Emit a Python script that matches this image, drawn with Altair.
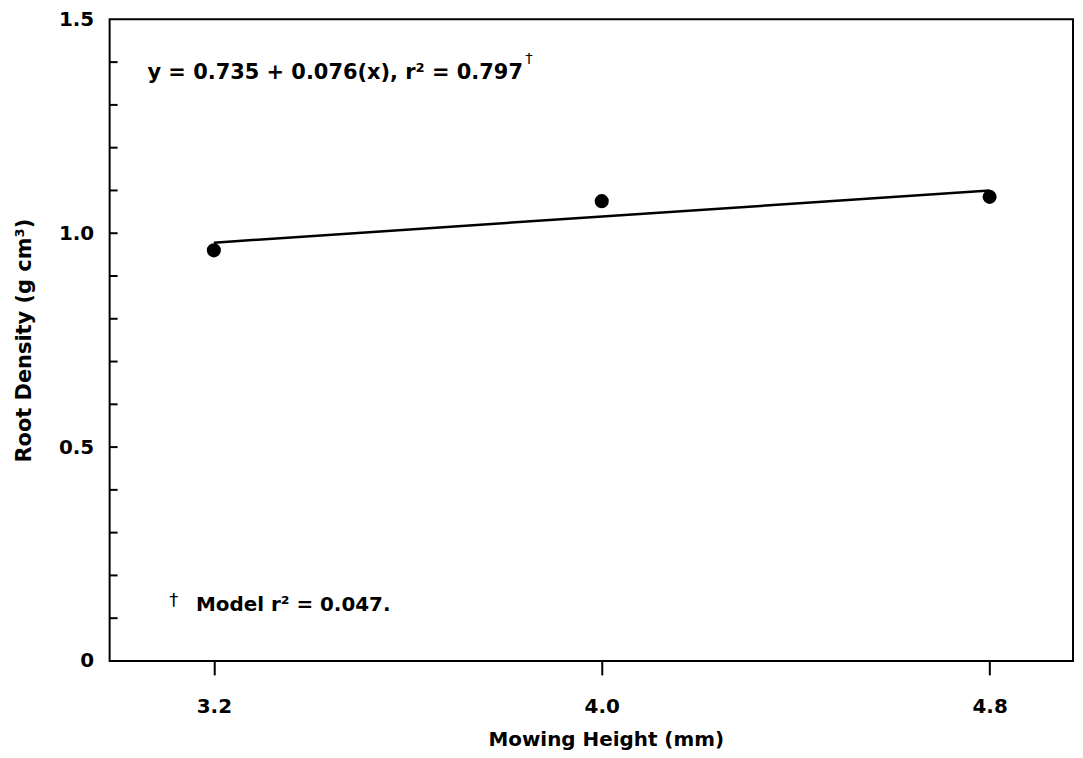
import altair as alt
import pandas as pd

# ---- data ----
mowing_height = [3.2, 4.0, 4.8]
root_density = [0.96, 1.075, 1.085]

fit_x = [3.2, 4.8]
fit_y = [0.978, 1.100]

x_tick_values = [3.2, 4.0, 4.8]
y_label_values = [0, 0.5, 1.0, 1.5]
y_minor_ticks = [0.1, 0.2, 0.3, 0.4, 0.5, 0.6, 0.7, 0.8, 0.9, 1.0, 1.1, 1.2, 1.3, 1.4]

eq_text = ["y = 0.735 + 0.076(x), r\u00b2 = 0.797"]
eq_x = [3.063]
eq_y = [1.36]

model_text = ["Model r\u00b2 = 0.047."]
model_x = [3.163]
model_y = [0.116]

eq_dagger_x = [3.842]
eq_dagger_y = [1.398]
model_dagger_x = [3.108]
model_dagger_y = [0.128]

X_DOMAIN = [2.985, 4.972]
Y_DOMAIN = [0, 1.5]
FONT = "DejaVu Sans"

points_df = pd.DataFrame({"x": mowing_height, "y": root_density})
fit_df = pd.DataFrame({"x": fit_x, "y": fit_y})
ticks_df = pd.DataFrame({"y": y_minor_ticks})
eq_df = pd.DataFrame({"x": eq_x, "y": eq_y, "t": eq_text})
model_df = pd.DataFrame({"x": model_x, "y": model_y, "t": model_text})
eq_dag_df = pd.DataFrame({"x": eq_dagger_x, "y": eq_dagger_y, "t": ["\u2020"]})
model_dag_df = pd.DataFrame({"x": model_dagger_x, "y": model_dagger_y, "t": ["\u2020"]})

xs = alt.Scale(domain=X_DOMAIN, nice=False, zero=False)
ys = alt.Scale(domain=Y_DOMAIN, nice=False, zero=False)

x_axis = alt.Axis(
    values=x_tick_values, format=".1f", domain=False, grid=False,
    ticks=True, tickSize=14, tickWidth=2, tickColor="black",
    labelFont=FONT, labelFontWeight="bold", labelFontSize=20, labelColor="black",
    labelPadding=22, labelBaseline="top",
    title="Mowing Height (mm)", titleFont=FONT, titleFontWeight="bold",
    titleFontSize=20, titleColor="black", titleX=498, titleY=85,
    titleBaseline="alphabetic", titleAlign="center",
)
y_axis = alt.Axis(
    values=y_label_values, domain=False, grid=False, ticks=False, tickSize=0,
    labelExpr="datum.value == 0 ? '0' : format(datum.value, '.1f')",
    labelFont=FONT, labelFontWeight="bold", labelFontSize=20, labelColor="black",
    labelPadding=16,
    title="Root Density (g cm\u00b3)", titleFont=FONT, titleFontWeight="bold",
    titleFontSize=21, titleColor="black", titleAngle=-90, titleX=-79, titleY=322,
    titleBaseline="alphabetic", titleAlign="center",
)

points = alt.Chart(points_df).mark_circle(size=200, color="black", opacity=1).encode(
    x=alt.X("x:Q", scale=xs, axis=x_axis),
    y=alt.Y("y:Q", scale=ys, axis=y_axis),
)

fit = alt.Chart(fit_df).mark_line(color="black", strokeWidth=2.5).encode(
    x=alt.X("x:Q", scale=xs),
    y=alt.Y("y:Q", scale=ys),
)

minor = alt.Chart(ticks_df).mark_rule(color="black", strokeWidth=2).encode(
    x=alt.value(0), x2=alt.value(8),
    y=alt.Y("y:Q", scale=ys),
)

eq = alt.Chart(eq_df).mark_text(
    font=FONT, fontWeight="bold", fontSize=21, color="black",
    align="left", baseline="alphabetic",
).encode(x=alt.X("x:Q", scale=xs), y=alt.Y("y:Q", scale=ys), text="t:N")

model = alt.Chart(model_df).mark_text(
    font=FONT, fontWeight="bold", fontSize=20, color="black",
    align="left", baseline="alphabetic",
).encode(x=alt.X("x:Q", scale=xs), y=alt.Y("y:Q", scale=ys), text="t:N")

eq_dag = alt.Chart(eq_dag_df).mark_text(
    font=FONT, fontSize=15, color="black", align="left", baseline="alphabetic",
).encode(x=alt.X("x:Q", scale=xs), y=alt.Y("y:Q", scale=ys), text="t:N")

model_dag = alt.Chart(model_dag_df).mark_text(
    font=FONT, fontSize=18, color="black", align="left", baseline="alphabetic",
).encode(x=alt.X("x:Q", scale=xs), y=alt.Y("y:Q", scale=ys), text="t:N")

chart = alt.layer(minor, fit, points, eq, model, eq_dag, model_dag).properties(
    width=967, height=644,
    autosize="none",
    padding={"left": 102, "top": 10, "right": 2, "bottom": 94},
    background="white",
).configure_view(stroke="black", strokeWidth=2)

chart.save("out.html", embed_options={"renderer": "svg", "actions": False})
